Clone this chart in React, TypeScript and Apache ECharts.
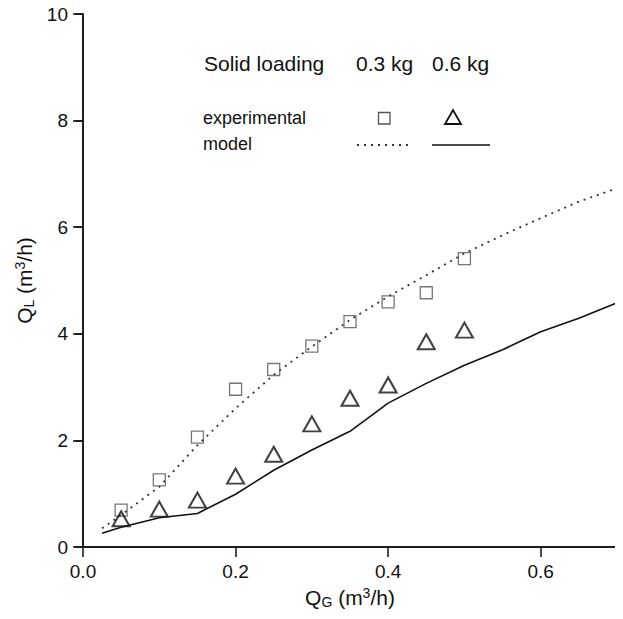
import React, { useEffect, useRef } from "react";
import * as echarts from "echarts";

// Gas flow rate Q_G (m3/h) for experimental points
const expX = [0.05, 0.1, 0.15, 0.2, 0.25, 0.3, 0.35, 0.4, 0.45, 0.5];
// Experimental Q_L (m3/h), solid loading 0.3 kg (squares)
const exp03 = [0.69, 1.26, 2.06, 2.96, 3.33, 3.77, 4.23, 4.6, 4.77, 5.41];
// Experimental Q_L (m3/h), solid loading 0.6 kg (triangles)
const exp06 = [0.53, 0.71, 0.88, 1.33, 1.74, 2.31, 2.79, 3.04, 3.85, 4.07];

// Model curves
const modelX = [0.025, 0.05, 0.1, 0.15, 0.2, 0.25, 0.3, 0.35, 0.4, 0.45, 0.5, 0.55, 0.6, 0.65, 0.7];
const model03 = [0.35, 0.6, 1.13, 1.91, 2.6, 3.23, 3.76, 4.26, 4.7, 5.1, 5.51, 5.85, 6.17, 6.48, 6.73];
const model06 = [0.26, 0.37, 0.55, 0.63, 0.99, 1.44, 1.82, 2.17, 2.7, 3.07, 3.41, 3.7, 4.04, 4.29, 4.58];

const FONT = "Liberation Sans";
const INK = "#111";

function pairs(xs: number[], ys: number[]) {
  return xs.map((x, i) => [x, ys[i]]);
}

const titleRich = {
  sub: { fontFamily: FONT, fontSize: 14, color: INK, verticalAlign: "bottom", padding: [9, 0, 0, 0] },
  sup: { fontFamily: FONT, fontSize: 14, color: INK, verticalAlign: "top", padding: [0, 0, 7, 0] },
};

export default function App() {
  const ref = useRef<HTMLDivElement>(null);

  useEffect(() => {
    if (!ref.current) return;
    const chart = echarts.init(ref.current, null, { renderer: "svg" });
    const axisLine = { show: true, lineStyle: { color: INK, width: 1.5 } };
    const option: any = {
      animation: false,
      backgroundColor: "#fff",
      grid: { left: 83, right: 6, top: 14, bottom: 72, containLabel: false, outerBoundsMode: "none" },
      xAxis: [
        {
          type: "value",
          min: 0,
          max: 0.7,
          interval: 0.2,
          position: "bottom",
          axisLine,
          axisTick: { show: true, inside: false, length: 10, lineStyle: { color: INK, width: 1.5 } },
          axisLabel: {
            margin: 15,
            fontFamily: FONT,
            fontSize: 19,
            color: INK,
            formatter: (v: number) => (v > 0.65 ? "" : v.toFixed(1)),
          },
          splitLine: { show: false },
          name: "Q{sub|G} (m{sup|3}/h)",
          nameLocation: "middle",
          nameGap: 37,
          nameTextStyle: { fontFamily: FONT, fontSize: 21, color: INK, rich: titleRich },
        },
        {
          type: "value",
          min: 0,
          max: 0.7,
          interval: 0.2,
          position: "top",
          axisLine,
          axisTick: { show: false },
          axisLabel: { show: false },
          splitLine: { show: false },
        },
      ],
      yAxis: [
        {
          type: "value",
          min: 0,
          max: 10,
          interval: 2,
          position: "left",
          axisLine,
          axisTick: { show: true, inside: false, length: 10, lineStyle: { color: INK, width: 1.5 } },
          axisLabel: { margin: 15, fontFamily: FONT, fontSize: 19, color: INK },
          splitLine: { show: false },
          name: "Q{sub|L} (m{sup|3}/h)",
          nameLocation: "middle",
          nameGap: 46,
          nameTextStyle: { fontFamily: FONT, fontSize: 21, color: INK, rich: titleRich },
        },
        {
          type: "value",
          min: 0,
          max: 10,
          interval: 2,
          position: "right",
          axisLine,
          axisTick: { show: true, inside: true, length: 8, lineStyle: { color: INK, width: 1.5 } },
          axisLabel: { show: false },
          splitLine: { show: false },
        },
      ],
      series: [
        {
          name: "model 0.3 kg",
          type: "line",
          data: pairs(modelX, model03),
          showSymbol: false,
          symbol: "none",
          lineStyle: { color: "#333", width: 1.8, type: [2, 5] },
          z: 2,
        },
        {
          name: "model 0.6 kg",
          type: "line",
          data: pairs(modelX, model06),
          showSymbol: false,
          symbol: "none",
          lineStyle: { color: INK, width: 1.6 },
          z: 2,
        },
        {
          name: "experimental 0.3 kg",
          type: "scatter",
          data: pairs(expX, exp03),
          symbol: "rect",
          symbolSize: 12,
          itemStyle: { color: "rgba(0,0,0,0)", borderColor: "#555", borderWidth: 1.3 },
          z: 3,
        },
        {
          name: "experimental 0.6 kg",
          type: "scatter",
          data: pairs(expX, exp06),
          symbol: "triangle",
          symbolSize: [17, 15],
          itemStyle: { color: "rgba(0,0,0,0)", borderColor: INK, borderWidth: 2 },
          z: 3,
        },
      ],
      graphic: [
        { type: "text", left: 204, top: 53, style: { text: "Solid loading", fontFamily: FONT, fontSize: 21, fill: INK } },
        { type: "text", left: 356, top: 53, style: { text: "0.3 kg", fontFamily: FONT, fontSize: 21, fill: INK } },
        { type: "text", left: 432, top: 53, style: { text: "0.6 kg", fontFamily: FONT, fontSize: 21, fill: INK } },
        { type: "text", left: 203, top: 109, style: { text: "experimental", fontFamily: FONT, fontSize: 18, fill: INK } },
        { type: "text", left: 203, top: 135, style: { text: "model", fontFamily: FONT, fontSize: 18, fill: INK } },
        {
          type: "rect",
          shape: { x: 378.5, y: 112.5, width: 11.5, height: 11.5 },
          style: { fill: "none", stroke: "#555", lineWidth: 1.3 },
        },
        {
          type: "polygon",
          shape: { points: [[445, 124], [461, 124], [453, 110]] },
          style: { fill: "none", stroke: INK, lineWidth: 1.8 },
        },
        {
          type: "line",
          shape: { x1: 357, y1: 145, x2: 413, y2: 145 },
          style: { stroke: "#333", lineWidth: 1.8, lineDash: [2, 5] },
        },
        {
          type: "line",
          shape: { x1: 432, y1: 145, x2: 490, y2: 145 },
          style: { stroke: INK, lineWidth: 1.6 },
        },
      ],
    };
    chart.setOption(option);
    return () => chart.dispose();
  }, []);

  return <div ref={ref} style={{ width: 623, height: 619, margin: -8 }} />;
}
